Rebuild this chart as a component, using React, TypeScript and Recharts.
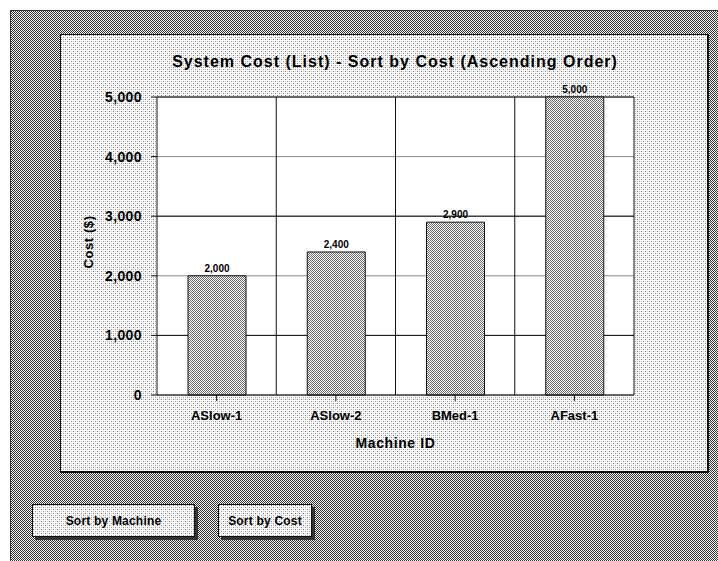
import React from 'react';
import {
  BarChart,
  Bar,
  XAxis,
  YAxis,
  CartesianGrid,
  LabelList,
} from 'recharts';

const machines = ['ASlow-1', 'ASlow-2', 'BMed-1', 'AFast-1'];
const costs = [2000, 2400, 2900, 5000];
const costTicks = [0, 1000, 2000, 3000, 4000, 5000];
const darkLines = [1000, 3000, 5000];
const buttonLabels = ['Sort by Machine', 'Sort by Cost'];

const data = machines.map((name, i) => ({ name, cost: costs[i] }));

const FONT = '"Liberation Sans", Arial, Helvetica, sans-serif';
const COST_MAX = 5000;

const svgTile = (w: number, h: number, body: string) =>
  `url("data:image/svg+xml;utf8,<svg xmlns='http://www.w3.org/2000/svg' width='${w}' height='${h}' shape-rendering='crispEdges'>${body}</svg>")`;

// dense screen for the window background
const denseBg = svgTile(
  2,
  2,
  "<rect width='2' height='2' fill='%23f4f4f4'/><rect x='0' y='0' width='1' height='1' fill='%23333'/><rect x='1' y='1' width='1' height='1' fill='%23333'/>"
);

// sparse dots for the chart panel and buttons
const lightBg = svgTile(
  4,
  4,
  "<rect width='4' height='4' fill='%23fbfbfb'/><rect x='0' y='0' width='1' height='1' fill='%23777'/><rect x='2' y='2' width='1' height='1' fill='%23999'/><rect x='2' y='0' width='1' height='1' fill='%23ccc'/><rect x='0' y='2' width='1' height='1' fill='%23ccc'/>"
);

const yTickStyle = { fontFamily: FONT, fontSize: 14, fontWeight: 700, fill: '#000', letterSpacing: 0.4 };
const xTickStyle = { fontFamily: FONT, fontSize: 13, fontWeight: 700, fill: '#000' };

const Button = ({ label, left, width }: { label: string; left: number; width: number }) => (
  <div
    style={{
      position: 'absolute',
      left,
      top: 504,
      width,
      height: 33,
      boxSizing: 'border-box',
      border: '1px solid #111',
      backgroundImage: lightBg,
      boxShadow: '3px 3px 0 #333',
      display: 'flex',
      alignItems: 'center',
      justifyContent: 'center',
      fontFamily: FONT,
      fontSize: 12,
      fontWeight: 700,
      letterSpacing: 0.2,
      color: '#000',
    }}
  >
    {label}
  </div>
);

export default function App() {
  return (
    <div style={{ position: 'absolute', left: 0, top: 0, width: 718, height: 561, overflow: 'hidden', background: '#fff' }}>
      <div
        style={{
          position: 'absolute',
          left: 10,
          top: 10,
          width: 708,
          height: 551,
          boxSizing: 'border-box',
          borderTop: '1px solid #333',
          borderLeft: '1px solid #333',
          backgroundImage: denseBg,
        }}
      />
      <div
        style={{
          position: 'absolute',
          left: 60,
          top: 34,
          width: 649,
          height: 439,
          boxSizing: 'border-box',
          borderTop: '1px solid #111',
          borderLeft: '1px solid #111',
          borderRight: '2px solid #111',
          borderBottom: '2px solid #111',
          backgroundImage: lightBg,
        }}
      />
      <div
        style={{
          position: 'absolute',
          left: 60,
          width: 670,
          top: 53,
          textAlign: 'center',
          fontFamily: FONT,
          fontSize: 16,
          fontWeight: 700,
          letterSpacing: 1,
          color: '#000',
        }}
      >
        System Cost (List) - Sort by Cost (Ascending Order)
      </div>
      <div
        style={{
          position: 'absolute',
          left: 88,
          top: 242,
          transform: 'translate(-50%, -50%) rotate(-90deg)',
          fontFamily: FONT,
          fontSize: 13,
          fontWeight: 700,
          letterSpacing: 0.6,
          whiteSpace: 'nowrap',
        }}
      >
        Cost ($)
      </div>
      <div style={{ position: 'absolute', left: 60, top: 34 }}>
        <BarChart
          width={648}
          height={438}
          data={data}
          margin={{ top: 63, right: 0, bottom: 0, left: 0 }}
        >
          <defs>
            <pattern id="barScreen" width="2" height="2" patternUnits="userSpaceOnUse">
              <rect width="2" height="2" fill="#fff" />
              <rect x="0" y="0" width="1" height="1" fill="#6a6a6a" />
              <rect x="1" y="1" width="1" height="1" fill="#6a6a6a" />
            </pattern>
          </defs>
          <CartesianGrid yAxisId="left" vertical={false} stroke="#8a8a8a" fill="#fff" />
          <CartesianGrid
            yAxisId="left"
            stroke="#111"
            verticalCoordinatesGenerator={(props: any) => {
              const off = props?.offset ?? { left: 97, width: 477 };
              return [1, 2, 3].map((i) => off.left + (off.width * i) / machines.length);
            }}
            horizontalCoordinatesGenerator={(props: any) => {
              const off = props?.offset ?? { top: 63, height: 298 };
              return darkLines.map((v) => off.top + off.height * (1 - v / COST_MAX));
            }}
          />
          <XAxis
            dataKey="name"
            height={77}
            stroke="#111"
            tickSize={6}
            tickMargin={10}
            tick={xTickStyle}
            label={{
              value: 'Machine ID',
              position: 'insideBottom',
              offset: 24,
              style: { fontFamily: FONT, fontSize: 14, fontWeight: 700, fill: '#000', letterSpacing: 0.6 },
            }}
          />
          <YAxis
            yAxisId="left"
            width={97}
            domain={[0, COST_MAX]}
            ticks={costTicks}
            tickFormatter={(v: number) => v.toLocaleString('en-US')}
            stroke="#111"
            tickSize={6}
            tickMargin={9}
            tick={yTickStyle}
          />
          <YAxis
            yAxisId="right"
            orientation="right"
            width={74}
            domain={[0, COST_MAX]}
            ticks={costTicks}
            tickFormatter={(v: number) => v.toLocaleString('en-US')}
            stroke="#111"
            tickLine={false}
            tickSize={0}
            tickMargin={11}
            tick={{ ...yTickStyle, textAnchor: 'start' }}
          />
          <Bar
            yAxisId="left"
            dataKey="cost"
            barSize={58}
            fill="url(#barScreen)"
            stroke="#111"
            strokeWidth={1}
            isAnimationActive={false}
          >
            <LabelList
              dataKey="cost"
              position="top"
              offset={4}
              formatter={(v: any) => Number(v).toLocaleString('en-US')}
              style={{ fontFamily: FONT, fontSize: 10, fontWeight: 700, fill: '#000' }}
            />
          </Bar>
        </BarChart>
      </div>
      <Button label={buttonLabels[0]} left={32} width={163} />
      <Button label={buttonLabels[1]} left={218} width={94} />
    </div>
  );
}
